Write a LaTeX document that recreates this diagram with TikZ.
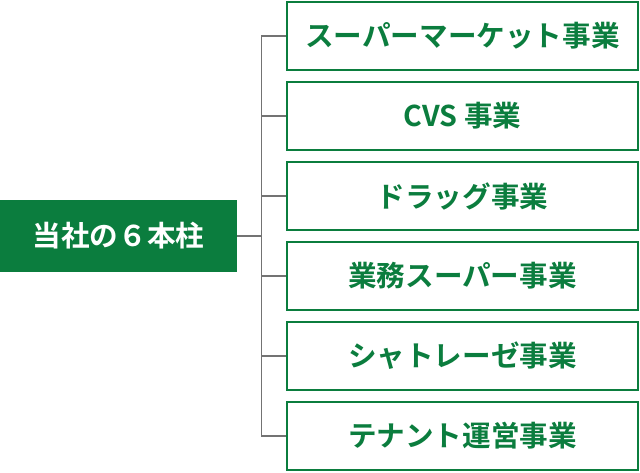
\documentclass[tikz,border=0pt]{standalone}
\usepackage{fontspec}
\newfontfamily\jpbold{Noto Sans CJK JP Bold}
\usepackage{tikz}
\usetikzlibrary{positioning,calc}
\definecolor{pillarGreen}{HTML}{0B7D3E}
\definecolor{lineGray}{HTML}{737373}
\tikzset{
  main nd/.style={
    rectangle, fill=pillarGreen, draw=none, text=white, align=center,
    minimum width=237pt, minimum height=72pt, inner sep=0pt,
    font=\jpbold\fontsize{28.6}{32}\selectfont
  },
  biz nd/.style={
    rectangle, draw=pillarGreen, fill=white, line width=2pt, text=pillarGreen,
    align=center, minimum width=351pt, minimum height=68pt, inner sep=0pt,
    font=\jpbold\fontsize{28.6}{32}\selectfont
  },
  conn/.style={line width=1.4pt, draw=lineGray}
}
\begin{document}
\begin{tikzpicture}[x=1pt, y=-1pt]
    \useasboundingbox (0,0) rectangle (640,472);

    \node[main nd] (pillars) at (118.5,236) {当社の６本柱};

    \node[biz nd] (super) at (462.5,36) {スーパーマーケット事業};
    \node[biz nd] (cvs) at (462.5,116) {CVS 事業};
    \node[biz nd] (drug) at (462.5,196) {ドラッグ事業};
    \node[biz nd] (gyomu) at (462.5,276) {業務スーパー事業};
    \node[biz nd] (chateraise) at (462.5,356) {シャトレーゼ事業};
    \node[biz nd] (tenant) at (462.5,436) {テナント運営事業};

    \coordinate (hub) at (261.5,236);

    \draw[conn] (pillars.east) -- (hub);
    \draw[conn] (super.west) -| (hub) |- (tenant.west);
    \draw[conn] (hub |- cvs.west) -- (cvs.west);
    \draw[conn] (hub |- drug.west) -- (drug.west);
    \draw[conn] (hub |- gyomu.west) -- (gyomu.west);
    \draw[conn] (hub |- chateraise.west) -- (chateraise.west);

  \end{tikzpicture}
\end{document}
